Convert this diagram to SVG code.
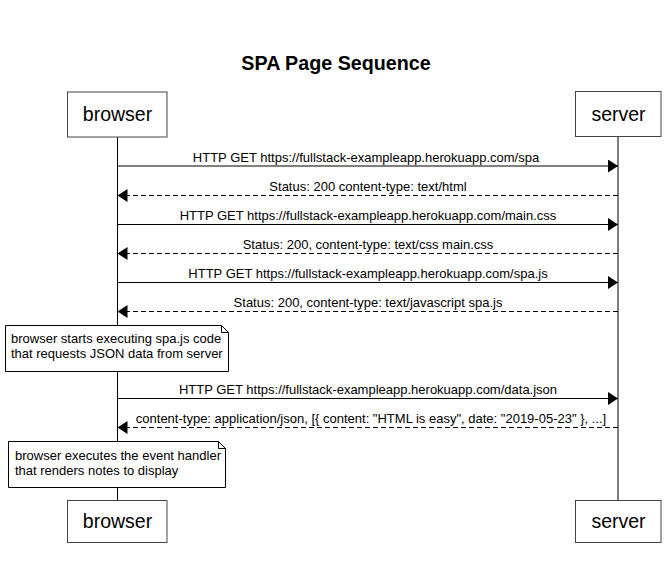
<svg xmlns="http://www.w3.org/2000/svg" width="672" height="577" viewBox="0 0 672 577">
<style>
text{font-family:"Liberation Sans",Arial,sans-serif;fill:#000}
.title{font-size:19.7px;font-weight:bold}
.actor rect{fill:#fff;stroke:#444;stroke-width:1}
.actor text{font-size:19.5px}
.life{stroke:#000;stroke-width:1}
.msg{stroke:#000;stroke-width:1;fill:none}
.dash{stroke-dasharray:5,3}
.mt{font-size:13px}
.note path{fill:#fff;stroke:#000;stroke-width:1}
.note text{font-size:13px}
</style>
<defs>
<marker id="ah" markerWidth="10" markerHeight="13" refX="10" refY="6.5" orient="auto" markerUnits="userSpaceOnUse">
<path d="M0,0 L10,6.5 L0,13 Z" fill="#000"/>
</marker>
</defs>
<rect width="672" height="577" fill="#fff"/>
<text class="title" x="336" y="70" text-anchor="middle">SPA Page Sequence</text>

<g id="lifelines">
<line class="life" x1="117.5" y1="137" x2="117.5" y2="500"/>
<line class="life" x1="618" y1="137" x2="618" y2="500" stroke="#666"/>
</g>

<g id="browser-top" class="actor"><rect x="67.5" y="92" width="99.5" height="45"/><text x="117.5" y="121" text-anchor="middle">browser</text></g>
<g id="server-top" class="actor"><rect x="575.5" y="91.5" width="85.5" height="45"/><text x="618.5" y="121" text-anchor="middle">server</text></g>
<g id="browser-bottom" class="actor"><rect x="67.5" y="500.5" width="99.5" height="42"/><text x="117.5" y="528" text-anchor="middle">browser</text></g>
<g id="server-bottom" class="actor"><rect x="575.5" y="500.5" width="85.5" height="42"/><text x="618.5" y="528" text-anchor="middle">server</text></g>

<g id="connectors">
<line class="msg" x1="117.5" y1="166" x2="618" y2="166" marker-end="url(#ah)"/>
<text class="mt" x="366" y="161.5" text-anchor="middle">HTTP GET https://fullstack-exampleapp.herokuapp.com/spa</text>
<line class="msg dash" x1="618" y1="195.5" x2="117.5" y2="195.5" marker-end="url(#ah)"/>
<text class="mt" x="368" y="190.5" text-anchor="middle">Status: 200 content-type: text/html</text>
<line class="msg" x1="117.5" y1="224.5" x2="618" y2="224.5" marker-end="url(#ah)"/>
<text class="mt" x="368" y="219.5" text-anchor="middle">HTTP GET https://fullstack-exampleapp.herokuapp.com/main.css</text>
<line class="msg dash" x1="618" y1="253.5" x2="117.5" y2="253.5" marker-end="url(#ah)"/>
<text class="mt" x="368" y="248.5" text-anchor="middle">Status: 200, content-type: text/css main.css</text>
<line class="msg" x1="117.5" y1="282.5" x2="618" y2="282.5" marker-end="url(#ah)"/>
<text class="mt" x="368" y="277.5" text-anchor="middle">HTTP GET https://fullstack-exampleapp.herokuapp.com/spa.js</text>
<line class="msg dash" x1="618" y1="311.5" x2="117.5" y2="311.5" marker-end="url(#ah)"/>
<text class="mt" x="368" y="306.5" text-anchor="middle">Status: 200, content-type: text/javascript spa.js</text>
<line class="msg" x1="117.5" y1="398.5" x2="618" y2="398.5" marker-end="url(#ah)"/>
<text class="mt" x="368" y="393.5" text-anchor="middle">HTTP GET https://fullstack-exampleapp.herokuapp.com/data.json</text>
<line class="msg dash" x1="618" y1="427.5" x2="117.5" y2="427.5" marker-end="url(#ah)"/>
<text class="mt" x="371" y="422.5" text-anchor="middle">content-type: application/json, [{ content: "HTML is easy", date: "2019-05-23" }, ...]</text>
</g>

<g id="note1" class="note">
<path d="M5.5,325.5 H221.5 L228.5,332.5 V371.5 H5.5 Z M221.5,325.5 V332.5 H228.5"/>
<text x="11" y="343">browser starts executing spa.js code</text>
<text x="11" y="358">that requests JSON data from server</text>
</g>
<g id="note2" class="note">
<path d="M8.5,441.5 H218.5 L225.5,448.5 V487.5 H8.5 Z M218.5,441.5 V448.5 H225.5"/>
<text x="15" y="460">browser executes the event handler</text>
<text x="15" y="475">that renders notes to display</text>
</g>
</svg>
